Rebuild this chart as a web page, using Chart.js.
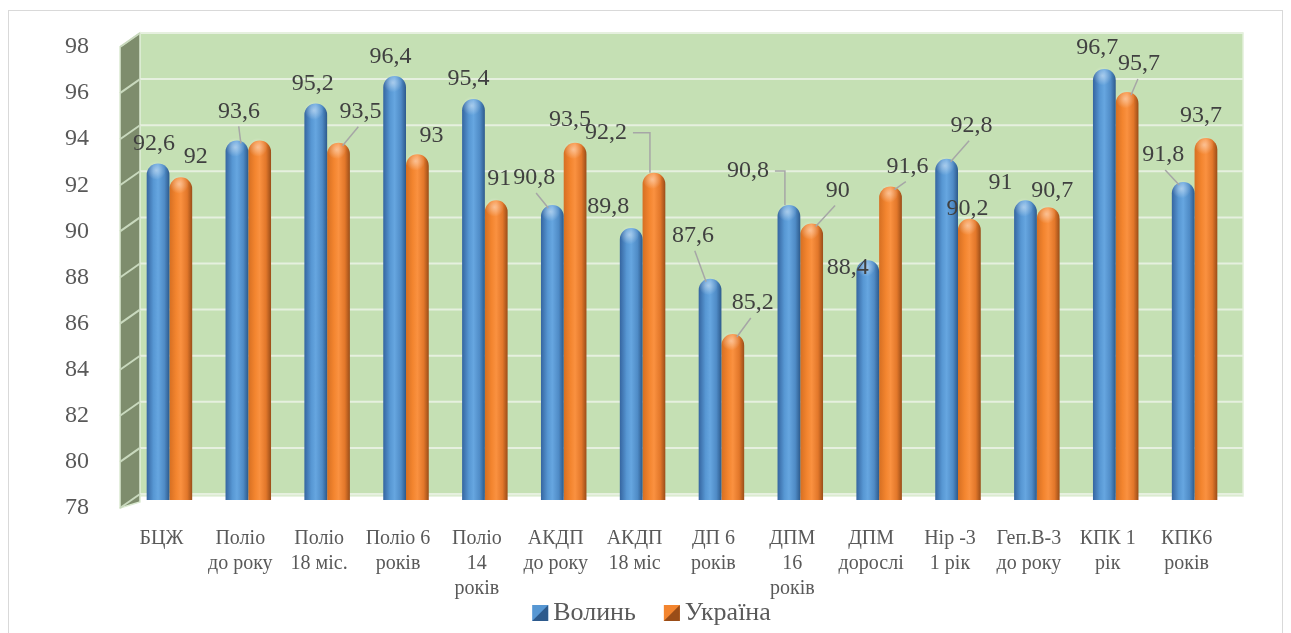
<!DOCTYPE html>
<html>
<head>
<meta charset="utf-8">
<script src="https://cdn.jsdelivr.net/npm/chart.js"></script>
<style>
  html, body { margin: 0; padding: 0; background: #ffffff; }
  #wrap { width: 1291px; height: 633px; position: relative; }
</style>
</head>
<body>
<div id="wrap"><canvas id="vaccChart"></canvas></div>
<script>
// --- ДАНІ ---
const categories = [
    ['БЦЖ'], ['Поліо', 'до року'], ['Поліо', '18 міс.'], ['Поліо 6', 'років'],
    ['Поліо', '14', 'років'], ['АКДП', 'до року'], ['АКДП', '18 міс'], ['ДП 6', 'років'],
    ['ДПМ', '16', 'років'], ['ДПМ', 'дорослі'], ['Hip -3', '1 рік'], ['Геп.В-3', 'до року'],
    ['КПК 1', 'рік'], ['КПК6', 'років']
];
const volynValues = [92.6, 93.6, 95.2, 96.4, 95.4, 90.8, 89.8, 87.6, 90.8, 88.4, 92.8, 91, 96.7, 91.8];
const ukraineValues = [92, 93.6, 93.5, 93, 91, 93.5, 92.2, 85.2, 90, 91.6, 90.2, 90.7, 95.7, 93.7];
const seriesNames = ['Волинь', 'Україна'];
const yTicks = { min: 78, max: 98, step: 2 };

// --- ПІДПИСИ ЗНАЧЕНЬ: зсуви відносно верхівки стовпчика та тип виноски ---
// [dx, dy, leader]  leader: 0 - немає, 1 - пряма, 2 - ламана; null - підпис прихований
const labelLayout = [
    [[-4, -20, 0], [2, -29, 1], [-3, -20, 0], [-4, -19, 0], [-5, -20, 0], [-18, -27, 1], [-23, -21, 0],
     [-17, -43, 1], [-41, -34, 2], [-20, 7, 0], [25, -33, 1], [-25, -18, 0], [-7, -21, 0], [-20, -27, 1]],
    [[15, -21, 0], null, [22, -31, 1], [14, -19, 0], [3, -22, 0], [-5, -23, 0], [-48, -40, 2],
     [20, -31, 1], [26, -33, 1], [17, -20, 1], [-2, -10, 0], [4, -17, 0], [12, -28, 1], [-5, -22, 0]]
];

const SERIF = "'Liberation Serif', 'Times New Roman', serif";
const CAT_PCT = 0.577;

const palettes = [
    [[0, '#3565a0'], [0.3, '#5797d3'], [0.5, '#66a6e0'], [0.78, '#4f8bc6'], [1, '#2d5a8c']],
    [[0, '#d66f22'], [0.3, '#f3852f'], [0.5, '#fa9140'], [0.78, '#e2772a'], [1, '#9a4d18']]
];

function cylinderFill(ctx) {
    const chart = ctx.chart;
    const xs = chart.scales.x;
    const pal = palettes[ctx.datasetIndex];
    if (!xs || !chart.chartArea) return pal[2][1];
    const cw = (xs.right - xs.left) / categories.length;
    const bw = cw * CAT_PCT / 2;
    const c = xs.getPixelForValue(ctx.dataIndex);
    const left = c - bw + ctx.datasetIndex * bw;
    const g = chart.ctx.createLinearGradient(left, 0, left + bw, 0);
    pal.forEach(s => g.addColorStop(s[0], s[1]));
    return g;
}

// Стіни 3D-області: задня зелена стіна та бічна стінка
const wallsPlugin = {
    id: 'walls',
    beforeDraw(chart) {
        const { ctx, chartArea: a, scales: { y } } = chart;
        ctx.save();
        ctx.strokeStyle = '#d9d9d9';
        ctx.lineWidth = 1;
        ctx.strokeRect(8.5, 10.5, 1274, 700);

        const bx0 = a.left + 10, bx1 = a.right + 9;
        const top = y.getPixelForValue(yTicks.max) - 6;
        const bot = y.getPixelForValue(yTicks.min) - 4;
        ctx.fillStyle = '#c5e0b4';
        ctx.fillRect(bx0, top, bx1 - bx0, bot - top);
        ctx.strokeStyle = '#e2efda';
        ctx.lineWidth = 1.5;
        ctx.strokeRect(bx0, top, bx1 - bx0, bot - top);

        // бічна стінка
        const sx0 = a.left - 10;
        ctx.fillStyle = '#7e8d6d';
        ctx.beginPath();
        ctx.moveTo(sx0, top + 14);
        ctx.lineTo(bx0, top);
        ctx.lineTo(bx0, bot + 6);
        ctx.lineTo(sx0, bot + 12);
        ctx.closePath();
        ctx.fill();
        ctx.strokeStyle = '#dbead2';
        ctx.stroke();

        for (let v = yTicks.min; v <= yTicks.max; v += yTicks.step) {
            const py = y.getPixelForValue(v) - 6;
            ctx.strokeStyle = '#e6f0df';
            ctx.lineWidth = 2;
            ctx.beginPath();
            ctx.moveTo(bx0, py);
            ctx.lineTo(bx1, py);
            ctx.stroke();
            ctx.strokeStyle = '#c9d9be';
            ctx.beginPath();
            ctx.moveTo(sx0, py + 14);
            ctx.lineTo(bx0, py);
            ctx.stroke();
        }
        ctx.restore();
    }
};

// Відблиски на верхівках циліндрів, підписи значень та легенда
const labelsPlugin = {
    id: 'valueLabels',
    afterDatasetsDraw(chart) {
        const ctx = chart.ctx;
        ctx.save();
        chart.data.datasets.forEach((ds, di) => {
            const meta = chart.getDatasetMeta(di);
            meta.data.forEach((bar, i) => {
                const w = bar.width;
                const hx = bar.x - w * 0.08, hy = bar.y + w * 0.3;
                const hg = ctx.createRadialGradient(hx, hy, 0, hx, hy, w * 0.42);
                hg.addColorStop(0, 'rgba(255,255,255,0.45)');
                hg.addColorStop(1, 'rgba(255,255,255,0)');
                ctx.fillStyle = hg;
                ctx.beginPath();
                ctx.arc(hx, hy, w * 0.42, 0, Math.PI * 2);
                ctx.fill();
            });
        });

        ctx.font = '24px ' + SERIF;
        ctx.textAlign = 'center';
        ctx.textBaseline = 'middle';
        chart.data.datasets.forEach((ds, di) => {
            const meta = chart.getDatasetMeta(di);
            meta.data.forEach((bar, i) => {
                const lay = labelLayout[di][i];
                if (!lay) return;
                const text = String(ds.data[i]).replace('.', ',');
                const cx = bar.x + lay[0], cy = bar.y + lay[1];
                ctx.strokeStyle = '#a6a6a6';
                ctx.lineWidth = 1.5;
                if (lay[2] === 1) {
                    ctx.beginPath();
                    ctx.moveTo(cx + (bar.x - cx) * 0.1, cy + 15);
                    ctx.lineTo(bar.x + (cx > bar.x ? 4 : -4), bar.y + 3);
                    ctx.stroke();
                } else if (lay[2] === 2) {
                    const tw = ctx.measureText(text).width;
                    const ex = bar.x - 4;
                    ctx.beginPath();
                    ctx.moveTo(cx + tw / 2 + 6, cy);
                    ctx.lineTo(ex, cy);
                    ctx.lineTo(ex, bar.y);
                    ctx.stroke();
                }
                ctx.fillStyle = '#404040';
                ctx.fillText(text, cx, cy);
            });
        });
        ctx.restore();
    },
    afterDraw(chart) {
        const ctx = chart.ctx;
        ctx.save();
        ctx.font = '26px ' + SERIF;
        ctx.textBaseline = 'middle';
        ctx.textAlign = 'left';
        const box = 16, gap = 5, spacing = 28;
        const widths = seriesNames.map(n => ctx.measureText(n).width);
        const total = widths.reduce((s, w) => s + box + gap + w, 0) + spacing * (seriesNames.length - 1);
        let x = chart.width / 2 + 6 - total / 2;
        const y = 613;
        seriesNames.forEach((name, k) => {
            const pal = palettes[k];
            ctx.fillStyle = pal[1][1];
            ctx.fillRect(x, y - box / 2, box, box);
            ctx.fillStyle = pal[4][1];
            ctx.beginPath();
            ctx.moveTo(x + box, y - box / 2);
            ctx.lineTo(x + box, y + box / 2);
            ctx.lineTo(x, y + box / 2);
            ctx.closePath();
            ctx.fill();
            ctx.fillStyle = '#595959';
            ctx.fillText(name, x + box + gap, y);
            x += box + gap + widths[k] + spacing;
        });
        ctx.restore();
    }
};

const barStyle = {
    backgroundColor: cylinderFill,
    borderWidth: 0,
    borderRadius: { topLeft: 12, topRight: 12, bottomLeft: 5, bottomRight: 5 },
    borderSkipped: false,
    barPercentage: 1,
    categoryPercentage: CAT_PCT
};

new Chart(document.getElementById('vaccChart'), {
    type: 'bar',
    data: {
        labels: categories,
        datasets: [
            Object.assign({ label: seriesNames[0], data: volynValues }, barStyle),
            Object.assign({ label: seriesNames[1], data: ukraineValues }, barStyle)
        ]
    },
    options: {
        responsive: true,
        maintainAspectRatio: false,
        animation: false,
        layout: { padding: { top: 39, left: 0, right: 57, bottom: 33 } },
        scales: {
            x: {
                grid: { display: false },
                border: { display: false },
                afterFit: s => { s.height = 100; s.paddingLeft = 0; s.paddingRight = 0; },
                ticks: {
                    autoSkip: false,
                    maxRotation: 0,
                    padding: 18,
                    labelOffset: -8,
                    color: '#595959',
                    font: { family: SERIF, size: 20, lineHeight: 1.25 }
                }
            },
            y: {
                min: yTicks.min,
                max: yTicks.max,
                grid: { display: false },
                border: { display: false },
                afterFit: s => { s.width = 130; s.paddingTop = 0; s.paddingBottom = 0; },
                ticks: {
                    stepSize: yTicks.step,
                    padding: 33,
                    labelOffset: 8,
                    color: '#595959',
                    font: { family: SERIF, size: 24 }
                }
            }
        },
        plugins: {
            colors: { enabled: false },
            legend: { display: false },
            tooltip: { enabled: false }
        }
    },
    plugins: [wallsPlugin, labelsPlugin]
});
</script>
</body>
</html>
